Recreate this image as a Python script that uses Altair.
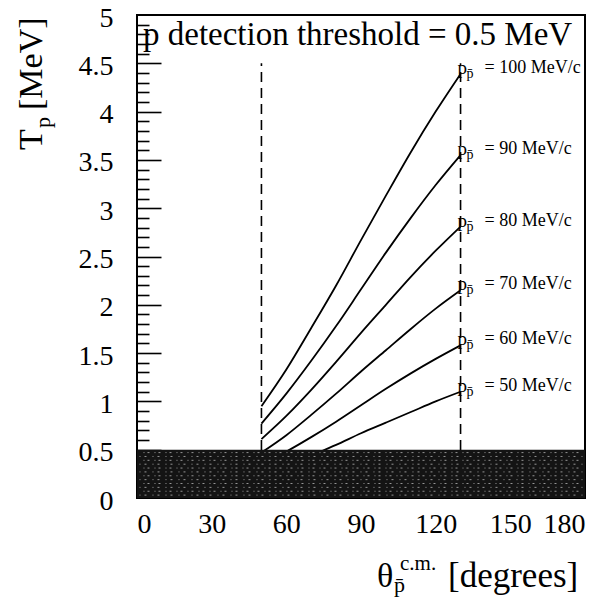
import altair as alt
import pandas as pd

# Polar angle (c.m.) sample points, degrees
theta = [50, 60, 70, 80, 90, 100, 110, 120, 130]

# Proton kinetic energy T_p [MeV] along each antiproton momentum curve
T_100 = [0.95, 1.33, 1.76, 2.20, 2.67, 3.13, 3.58, 4.00, 4.39]
T_90 = [0.77, 1.08, 1.42, 1.78, 2.16, 2.54, 2.90, 3.24, 3.55]
T_80 = [0.61, 0.85, 1.12, 1.41, 1.71, 2.00, 2.29, 2.56, 2.81]
T_70 = [0.47, 0.65, 0.86, 1.08, 1.31, 1.53, 1.75, 1.96, 2.15]
T_60 = [0.34, 0.48, 0.63, 0.79, 0.96, 1.13, 1.29, 1.44, 1.58]
T_50 = [0.24, 0.33, 0.44, 0.55, 0.67, 0.78, 0.89, 1.00, 1.10]

momenta = ["100", "90", "80", "70", "60", "50"]
series = [T_100, T_90, T_80, T_70, T_60, T_50]

# Acceptance limits (dashed verticals) and detection threshold
theta_cuts = [50, 130]
cut_top = 4.5
threshold = 0.5

x_ticks = [0, 30, 60, 90, 120, 150, 180]
y_ticks = [0, 0.5, 1, 1.5, 2, 2.5, 3, 3.5, 4, 4.5, 5]
y_all_ticks = [round(i * 0.1, 1) for i in range(1, 50)]

# rows of speckle drawn across the below-threshold band
speckle_rows_a = [0.03, 0.11, 0.19, 0.27, 0.35, 0.43]
speckle_rows_b = [0.07, 0.15, 0.23, 0.31, 0.39, 0.47]

SERIF = "Liberation Serif, Times New Roman, Times, serif"
PLOT_W, PLOT_H = 448, 483

rows = []
for p, vals in zip(momenta, series):
    for t, v in zip(theta, vals):
        rows.append({"theta": t, "T": v, "p": p})
curves = pd.DataFrame(rows)

labels = pd.DataFrame({
    "theta": [theta[-1]] * len(momenta),
    "T": [s[-1] for s in series],
    "rest": ["= " + p + " MeV/c" for p in momenta],
})

xs = alt.Scale(domain=[0, 180], nice=False, zero=False)
ys = alt.Scale(domain=[0, 5], nice=False, zero=False)

X = alt.X("theta:Q", scale=xs,
          axis=alt.Axis(values=x_ticks, ticks=False, domain=False, grid=False,
                        title=None, labelPadding=12, labelFontSize=28,
                        labelFont=SERIF, labelColor="black"))
# left axis: numbers only
Y_labels = alt.Y("T:Q", scale=ys,
                 axis=alt.Axis(orient="left", values=y_ticks, ticks=False,
                               domain=False, grid=False, title=None,
                               format="~g", labelPadding=24, labelFontSize=28,
                               labelFont=SERIF, labelColor="black",
                               labelBaseline="middle", labelOffset=3))
# second axis pinned to the left frame edge so its ticks point inward
Y_ticks = alt.Y("T:Q", scale=ys,
                axis=alt.Axis(orient="right", offset=-PLOT_W,
                              values=y_all_ticks, labels=False, domain=False,
                              grid=False, title=None, tickColor="black",
                              tickWidth=1.6,
                              tickSize={"condition": {
                                  "test": "abs(datum.value * 2 - round(datum.value * 2)) < 0.01",
                                  "value": 24}, "value": 12}))
# remaining layers carry an axis that draws nothing
Y_quiet = alt.Y("T:Q", scale=ys,
                axis=alt.Axis(labels=False, ticks=False, domain=False,
                              grid=False, title=None))

cut_df = pd.DataFrame({"theta": theta_cuts, "T": [0] * 2, "T2": [cut_top] * 2})
cuts = alt.Chart(cut_df).mark_rule(
    color="black", strokeWidth=1.6, strokeDash=[10, 6]
).encode(x=X, y=Y_labels, y2="T2:Q")

lines = alt.Chart(curves).mark_line(
    color="black", strokeWidth=1.8, interpolate="monotone"
).encode(
    x=alt.X("theta:Q", scale=xs), y=Y_ticks, detail="p:N"
)

band_df = pd.DataFrame({"theta": [0], "theta2": [180], "T": [0], "T2": [threshold]})
band = alt.Chart(band_df).mark_rect(color="#141414").encode(
    x=alt.X("theta:Q", scale=xs), x2="theta2:Q",
    y=Y_quiet, y2="T2:Q"
)


def speckle(rows_y, dash, offset):
    df = pd.DataFrame({"T": rows_y, "a": [1.0] * len(rows_y),
                       "b": [179.0] * len(rows_y)})
    return alt.Chart(df).mark_rule(
        color="white", strokeWidth=1, opacity=0.55,
        strokeDash=dash, strokeDashOffset=offset
    ).encode(x=alt.X("a:Q", scale=xs), x2="b:Q", y=Y_quiet)


speck_a = speckle(speckle_rows_a, [1, 4, 2, 6], 0)
speck_b = speckle(speckle_rows_b, [2, 5, 1, 3], 3)

lab_base = alt.Chart(labels).encode(x=alt.X("theta:Q", scale=xs), y=Y_quiet)
lab_p = lab_base.mark_text(font=SERIF, fontSize=19, align="left",
                           baseline="middle", dx=-3, dy=-6,
                           color="black").encode(text=alt.value("p"))
lab_sub = lab_base.mark_text(font=SERIF, fontSize=14, align="left",
                             baseline="middle", dx=6, dy=0,
                             color="black").encode(text=alt.value("p\u0304"))
lab_rest = lab_base.mark_text(font=SERIF, fontSize=18, align="left",
                              baseline="middle", dx=24, dy=-6,
                              color="black").encode(text="rest:N")


def txt(s, x, y, size, angle=0, align="left", baseline="alphabetic"):
    kw = dict(text=s, font=SERIF, fontSize=size, align=align,
              baseline=baseline, color="black")
    if angle:
        kw["angle"] = angle
    return alt.Chart(pd.DataFrame({"k": [0]})).mark_text(**kw).encode(
        x=alt.value(x), y=alt.value(y))


annots = [
    txt("p detection threshold = 0.5 MeV", 6, 30, 33),
    # y-axis title, rotated
    txt("T", -95, 135, 34, angle=270),
    txt("p", -87, 113, 22, angle=270),
    txt("[MeV]", -95, 95, 34, angle=270),
    # x-axis title
    txt("\u03b8", 240, 572, 34),
    txt("p\u0304", 257, 577, 22),
    txt("c.m.", 263, 555, 21),
    txt("[degrees]", 311, 572, 35),
]

chart = alt.layer(
    cuts, lines, band, speck_a, speck_b,
    lab_p, lab_sub, lab_rest, *annots
).resolve_axis(
    y="independent"
).properties(
    width=PLOT_W, height=PLOT_H,
    padding={"left": 137, "top": 15, "right": 27, "bottom": 108},
    autosize=alt.AutoSizeParams(type="none"),
).configure_view(
    stroke="black", strokeWidth=2
)

chart.save("out.html", embed_options={"renderer": "svg", "actions": False})
